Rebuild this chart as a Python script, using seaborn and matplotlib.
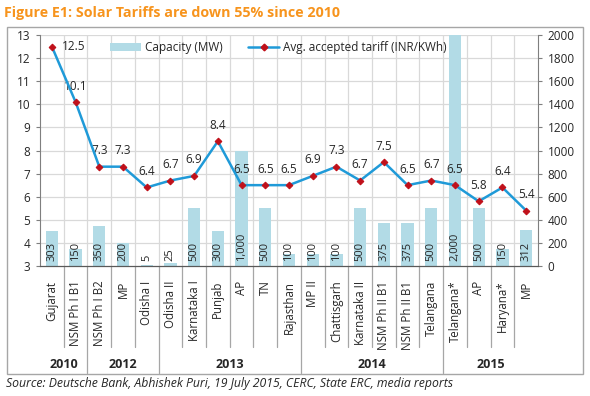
import matplotlib
matplotlib.use("Agg")
import matplotlib.pyplot as plt
import matplotlib.transforms as mtransforms
from matplotlib.patches import Rectangle
from matplotlib.lines import Line2D
from matplotlib.patches import Patch
import seaborn as sns
import pandas as pd
import numpy as np

categories = ["Gujarat", "NSM Ph I B1", "NSM Ph I B2", "MP", "Odisha I",
              "Odisha II", "Karnataka I", "Punjab", "AP", "TN", "Rajasthan",
              "MP II", "Chattisgarh", "Karnataka II", "NSM Ph II B1", "NSM Ph II B1",
              "Telangana", "Telangana*", "AP", "Haryana*", "MP"]
years = ["2010", "2012", "2013", "2014", "2015"]
year_counts = [2, 3, 6, 6, 4]
tariff = [12.5, 10.1, 7.3, 7.3, 6.4, 6.7, 6.9, 8.4, 6.5, 6.5, 6.5,
          6.9, 7.3, 6.7, 7.5, 6.5, 6.7, 6.5, 5.8, 6.4, 5.4]
capacity = [303, 150, 350, 200, 5, 25, 500, 300, 1000, 500, 100,
            100, 100, 500, 375, 375, 500, 2000, 500, 150, 312]
capacity_labels = ["303", "150", "350", "200", "5", "25", "500", "300", "1,000", "500", "100",
                   "100", "100", "500", "375", "375", "500", "2,000", "500", "150", "312"]

sns.set_style("white")
plt.rcParams['font.family'] = ['Open Sans', 'DejaVu Sans']

df = pd.DataFrame({"idx": np.arange(len(categories)), "cat": categories,
                   "tariff": tariff, "capacity": capacity})

fig = plt.figure(figsize=(5.9, 3.96), dpi=100)
ax = fig.add_axes([40/590, 1-266/396, (538-40)/590, (266-35)/396])
ax2 = ax.twinx()

BAR = "#b2dbe6"
LINE = "#1f9ad8"
MARK = "#c0101a"
GRID = "#d9d9d9"
AXC = "#7f7f7f"

# bars on secondary (behind)
sns.barplot(data=df, x="idx", y="capacity", ax=ax2, color=BAR, width=0.52,
            saturation=1, edgecolor="none", zorder=2)
ax2.set_ylim(0, 2000)
ax2.set_yticks(np.arange(0, 2001, 200))
ax2.set_xlim(-0.5, len(categories) - 0.5)
for i, lab in enumerate(capacity_labels):
    ax2.text(i, 45, lab, rotation=90, ha="center", va="bottom", fontsize=8,
             color="#262626", zorder=3)

# gridlines on ax2
for yv in np.arange(200, 2001, 200):
    ax2.axhline(yv, color=GRID, lw=0.9, zorder=0)
for b in np.arange(0.5, len(categories) - 0.5, 1):
    ax2.axvline(b, color=GRID, lw=0.9, zorder=0)

ax.set_zorder(ax2.get_zorder() + 1)
ax.patch.set_visible(False)

sns.lineplot(data=df, x="idx", y="tariff", ax=ax, color=LINE, lw=1.8,
             marker="D", markersize=3.4, markerfacecolor=MARK, markeredgecolor=MARK,
             zorder=4)
ax.set_ylim(3, 13)
ax.set_yticks(np.arange(3, 14, 1))
ax.set_xlim(-0.5, len(categories) - 0.5)

for i, v in enumerate(tariff):
    if i == 0:
        ax.annotate(f"{v}", (i, v), xytext=(7, 0), textcoords="offset points",
                    ha="left", va="center", fontsize=8.5, color="#262626")
    else:
        ax.annotate(f"{v}", (i, v), xytext=(0, 11.5), textcoords="offset points",
                    ha="center", va="center", fontsize=8.5, color="#262626")

# axis styling
for a in (ax, ax2):
    for s in a.spines.values():
        s.set_visible(False)
ax.spines["left"].set_visible(True)
ax.spines["left"].set_color(AXC)
ax.spines["left"].set_linewidth(0.8)
ax2.spines["right"].set_visible(True)
ax2.spines["right"].set_color(AXC)
ax2.spines["right"].set_linewidth(0.8)
ax.spines["bottom"].set_visible(True)
ax.spines["bottom"].set_color("#595959")
ax.spines["bottom"].set_linewidth(0.9)

ax.tick_params(axis="y", left=True, length=3, color=AXC, labelsize=8.5, pad=4,
               labelcolor="#262626")
ax2.tick_params(axis="y", right=True, length=3, color=AXC, labelsize=8.5, pad=4,
                labelcolor="#262626")
ax.set_ylabel("")
ax2.set_ylabel("")
ax.set_xlabel("")
ax2.set_xlabel("")
ax2.tick_params(axis="x", bottom=False, labelbottom=False)
ax.set_xticks(np.arange(len(categories)))
ax.set_xticklabels(categories, rotation=90, fontsize=8.3, color="#262626")
ax.tick_params(axis="x", bottom=False, pad=7)

# separators below axis
trans = mtransforms.blended_transform_factory(ax.transData, ax.transAxes)
group_edges = np.cumsum([0] + year_counts) - 0.5
h = 266 - 35
y_cat = -(347 - 266) / h
y_box = -(373 - 266) / h
for b in np.arange(0.5, len(categories) - 0.5, 1):
    ybot = y_box if b in group_edges else y_cat
    ax.add_line(Line2D([b, b], [0, ybot], transform=trans, color="#a6a6a6",
                       lw=0.9, clip_on=False))
for k, yr in enumerate(years):
    c = (group_edges[k] + group_edges[k + 1]) / 2
    ax.text(c, -(365 - 266) / h, yr, transform=trans, ha="center", va="center",
            fontsize=9, fontweight="bold", color="#262626")

# legend
handles = [Patch(facecolor=BAR, edgecolor="none"),
           Line2D([], [], color=LINE, lw=1.8, marker="D", markersize=3.4,
                  markerfacecolor=MARK, markeredgecolor=MARK)]
ax.legend(handles, ["Capacity (MW)", "Avg. accepted tariff (INR/KWh)"], ncol=2,
          frameon=False, loc="upper left", bbox_to_anchor=(0.12, 1.02),
          fontsize=8.5, handlelength=2.6, columnspacing=2.2, handletextpad=0.3)

# border and texts
fig.patches.append(Rectangle((7/590, 1-374/396), 576/590, 347/396,
                             transform=fig.transFigure, fill=False,
                             edgecolor="#a6a6a6", lw=1.0))
fig.text(4/590, 1-13/396, "Figure E1: Solar Tariffs are down 55% since 2010",
         fontsize=10.3, fontweight="bold", color="#f7941d", va="center", ha="left")
fig.text(6/590, 1-384/396,
         "Source: Deutsche Bank, Abhishek Puri, 19 July 2015, CERC, State ERC, media reports",
         fontsize=8.8, style="italic", color="#262626", va="center", ha="left")

fig.savefig("out.png", dpi=100)
